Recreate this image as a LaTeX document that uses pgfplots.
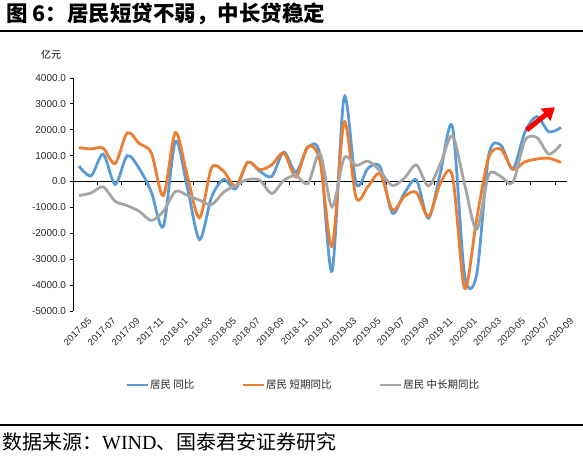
\documentclass[border=0pt]{standalone}
\usepackage{fontspec}
\setmainfont{Liberation Sans}
\newfontfamily\cjk{Noto Sans CJK SC}
\newfontfamily\serif{Liberation Serif}
\usepackage{pgfplots}
\usepackage{pgfplotstable}
\pgfplotsset{compat=1.18}
\usetikzlibrary{arrows.meta}
\definecolor{cblue}{HTML}{5B9BD5}
\definecolor{corange}{HTML}{ED7D31}
\definecolor{cgray}{HTML}{A5A5A5}
\pgfplotstableread{
i blue orange gray
0 600 1310 -540
1 220 1260 -440
2 1060 1290 -205
3 -110 700 -760
4 1000 1880 -930
5 500 1470 -1150
6 -400 1110 -1500
7 -1730 -540 -1150
8 1550 1890 -380
9 -250 200 -540
10 -2240 -1400 -720
11 -600 530 -890
12 80 400 -410
13 -280 -180 -150
14 740 750 80
15 400 460 50
16 200 650 -460
17 1140 1100 50
18 360 180 230
19 1320 1360 -80
20 1030 800 1080
21 -3460 -2500 -980
22 3250 2300 910
23 -80 -630 620
24 520 -180 790
25 560 300 400
26 -1220 -1090 -150
27 -450 -580 130
28 60 -420 640
29 -1420 -1350 -170
30 350 -60 700
31 2100 200 1760
32 -3600 -4120 -100
33 -3600 -1450 -1840
34 1000 930 250
35 1410 1250 200
36 480 480 -40
37 1900 760 1580
38 2510 870 1700
39 1920 900 1060
40 2090 740 1440
}\loans
\begin{document}
\begin{tikzpicture}[x=1pt,y=1pt]
\path[use as bounding box] (0,0) rectangle (583,465);
\node[anchor=west, inner sep=0pt] at (6,451) {\cjk\bfseries\fontsize{21.5}{25}\selectfont 图 6：居民短贷不弱，中长贷稳定};
\draw[line width=1.1pt] (0,434) -- (583,434);
\node[inner sep=0pt] at (51,410) {\cjk\fontsize{10}{12}\selectfont 亿元};
\begin{axis}[
  at={(73pt,154pt)}, anchor=south west,
  scale only axis, width=494pt, height=233pt,
  xmin=-0.5, xmax=40.5, ymin=-5000, ymax=4000,
  clip=false,
  axis lines*=left,
  x axis line style={draw=none},
  y axis line style={line width=0.8pt, black},
  tick align=outside,
  major tick length=3.5pt,
  ytick={-5000,-4000,...,4000},
  ytick style={line width=0.8pt, black},
  xtick={0,2,...,40},
  xticklabels={2017-05,2017-07,2017-09,2017-11,2018-01,2018-03,2018-05,2018-07,2018-09,2018-11,2019-01,2019-03,2019-05,2019-07,2019-09,2019-11,2020-01,2020-03,2020-05,2020-07,2020-09},
  xtick style={draw=none},
  x tick label style={rotate=45, anchor=east, inner sep=0pt, font=\fontsize{9.5}{11}\selectfont, xshift=4.5pt, yshift=-11pt, text=black!85},
  y tick label style={font=\fontsize{10}{12}\selectfont, text=black!85},
  yticklabel style={/pgf/number format/.cd, fixed, fixed zerofill, precision=1, 1000 sep={}, assume math mode=true},
  legend style={at={(0.1053,-0.3176)}, anchor=west, draw=none, fill=none, inner sep=0pt,
    font=\cjk\fontsize{10.5}{12}\selectfont, text=black!85, nodes={inner sep=1pt}},
  legend columns=3,
  legend cell align=left,
  legend image code/.code={\draw[#1] (0pt,0pt) -- (21pt,0pt);},
]
\draw[black, line width=0.8pt] (axis cs:-0.5,0) -- (axis cs:40.5,0);
\pgfplotsinvokeforeach{-0.5,1.5,3.5,5.5,7.5,9.5,11.5,13.5,15.5,17.5,19.5,21.5,23.5,25.5,27.5,29.5,31.5,33.5,35.5,37.5,39.5}{
  \draw[black, line width=0.8pt] (axis cs:#1,0) -- (axis cs:#1,-140);
}
\addplot[cblue, line width=2.8pt, smooth, no markers] table[x=i, y=blue] {\loans};
\addlegendentry{居民 同比\hspace*{46pt}}
\addplot[corange, line width=2.8pt, smooth, no markers] table[x=i, y=orange] {\loans};
\addlegendentry{居民 短期同比\hspace*{46pt}}
\addplot[cgray, line width=2.8pt, smooth, no markers] table[x=i, y=gray] {\loans};
\addlegendentry{居民 中长期同比}
\draw[red, line width=5pt, -{Triangle[length=12pt, width=15pt]}] (axis cs:37.15,1990) -- (axis cs:39.5,2870);
\end{axis}
\draw[line width=1.1pt] (0,40) -- (583,40);
\node[anchor=west, inner sep=0pt] at (2,23) {\cjk\fontsize{20}{24}\selectfont 数据来源：{\serif WIND}、国泰君安证券研究};
\end{tikzpicture}
\end{document}
